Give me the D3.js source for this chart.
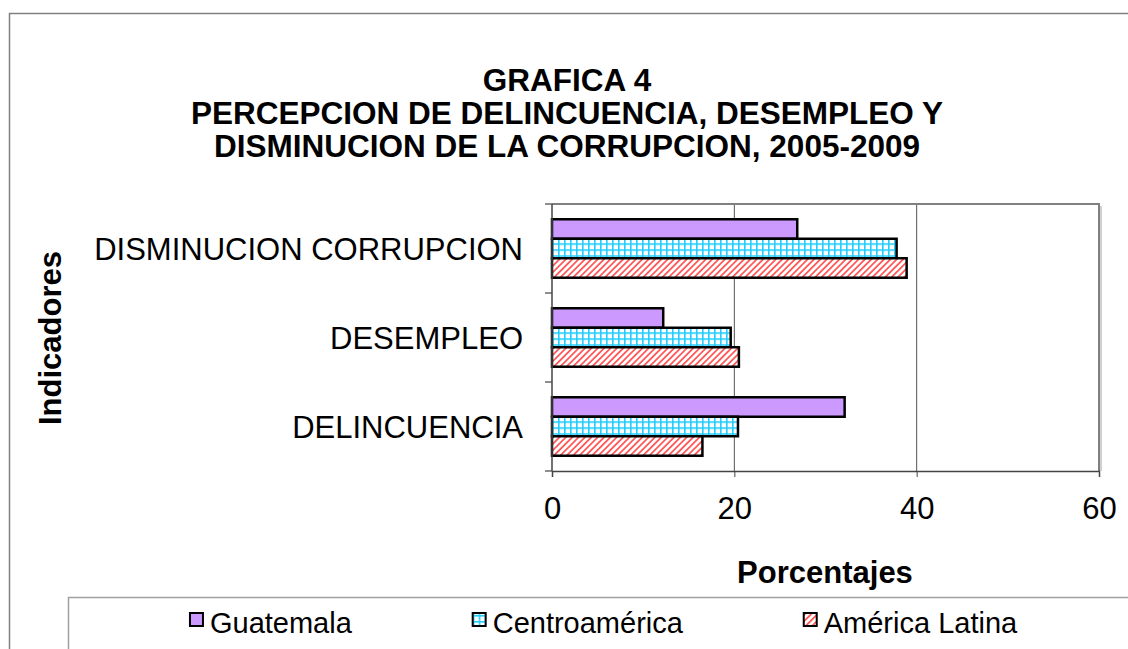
<!DOCTYPE html>
<html>
<head>
<meta charset="utf-8">
<script src="https://cdn.jsdelivr.net/npm/d3@7"></script>
<style>
  body { margin: 0; background: #fff; }
  svg { display: block; font-family: "Liberation Sans", Arial, sans-serif; }
</style>
</head>
<body>
<script>
const W = 1128, H = 649;

// Data
const categories = ["DELINCUENCIA", "DESEMPLEO", "DISMINUCION CORRUPCION"];
const seriesNames = ["Guatemala", "Centroamérica", "América Latina"];
const guatemala = [32.1, 12.2, 26.9];
const centroamerica = [20.4, 19.6, 37.8];
const americaLatina = [16.5, 20.5, 38.9];
const xTicks = [0, 20, 40, 60];
const titleLines = ["GRAFICA 4", "PERCEPCION DE DELINCUENCIA, DESEMPLEO Y", "DISMINUCION DE LA CORRUPCION, 2005-2009"];

const seriesValues = [guatemala, centroamerica, americaLatina];
const rows = categories.map((c, i) => ({
    category: c,
    values: seriesNames.map((s, j) => ({ series: s, value: seriesValues[j][i] }))
}));

const svg = d3.select("body").append("svg").attr("width", W).attr("height", H);

// Patterns for the fills
const defs = svg.append("defs");
const grid = defs.append("pattern").attr("id", "grid")
    .attr("patternUnits", "userSpaceOnUse").attr("width", 6).attr("height", 6);
grid.append("rect").attr("width", 6).attr("height", 6).attr("fill", "#fff");
grid.append("rect").attr("x", 0).attr("y", 0).attr("width", 1.6).attr("height", 6).attr("fill", "#22ccff");
grid.append("rect").attr("x", 0).attr("y", 0).attr("width", 6).attr("height", 1.6).attr("fill", "#22ccff");

const hatch = defs.append("pattern").attr("id", "hatch")
    .attr("patternUnits", "userSpaceOnUse").attr("width", 4.5).attr("height", 4.5)
    .attr("patternTransform", "rotate(45)");
hatch.append("rect").attr("width", 4.5).attr("height", 4.5).attr("fill", "#fff");
hatch.append("rect").attr("x", 0).attr("y", 0).attr("width", 1.8).attr("height", 4.5).attr("fill", "#ff5a5a");

const fills = { "Guatemala": "#cc99ff", "Centroamérica": "url(#grid)", "América Latina": "url(#hatch)" };

// Chart border
svg.append("rect").attr("x", 9.5).attr("y", 13.5).attr("width", W + 20).attr("height", H + 20)
    .attr("fill", "none").attr("stroke", "#808080").attr("stroke-width", 1.5);

// Title
svg.append("g").selectAll("text").data(titleLines).enter().append("text")
    .attr("x", 567).attr("y", (d, i) => 91 + i * 33)
    .attr("text-anchor", "middle").attr("font-weight", "bold").attr("font-size", 31.5)
    .text(d => d);

// Scales
const plot = { left: 552, right: 1099, top: 204, bottom: 471 };
const x = d3.scaleLinear().domain([0, 60]).range([plot.left, plot.right]);
const y = d3.scaleBand().domain(categories.slice().reverse())
    .range([plot.top, plot.bottom]).paddingInner(0.343).paddingOuter(0.1715);
const ySub = d3.scaleBand().domain(seriesNames).range([0, y.bandwidth()]);

// Gridlines
svg.append("g").selectAll("line").data(xTicks.slice(1, -1)).enter().append("line")
    .attr("x1", d => x(d)).attr("x2", d => x(d))
    .attr("y1", plot.top).attr("y2", plot.bottom)
    .attr("stroke", "#555").attr("stroke-width", 1);

// Plot frame (top + right)
svg.append("path")
    .attr("d", `M${plot.left},${plot.top} H${plot.right} V${plot.bottom}`)
    .attr("fill", "none").attr("stroke", "#808080").attr("stroke-width", 2);
svg.append("line").attr("x1", plot.right + 2).attr("x2", plot.right + 2)
    .attr("y1", plot.top + 2).attr("y2", plot.bottom)
    .attr("stroke", "#d0d0d0").attr("stroke-width", 2);

// Bars
const groups = svg.append("g").selectAll("g").data(rows).enter().append("g")
    .attr("transform", d => `translate(0,${y(d.category)})`);
groups.selectAll("rect").data(d => d.values).enter().append("rect")
    .attr("x", x(0))
    .attr("y", d => ySub(d.series))
    .attr("width", d => x(d.value) - x(0))
    .attr("height", ySub.bandwidth())
    .attr("fill", d => fills[d.series])
    .attr("stroke", "#000").attr("stroke-width", 2.5);

// X axis
const xAxis = svg.append("g").attr("transform", `translate(0,${plot.bottom})`)
    .call(d3.axisBottom(x).tickValues(xTicks).tickSize(6).tickPadding(20).tickFormat(d3.format("d")));
xAxis.select(".domain").attr("stroke", "#444").attr("stroke-width", 1.5);
xAxis.selectAll(".tick line").attr("stroke", "#444");
xAxis.selectAll("text").attr("font-size", 31).attr("font-family", "Liberation Sans, Arial, sans-serif")
    .attr("fill", "#000").attr("dy", "0.72em");

// Y axis: ticks at category boundaries
svg.append("line").attr("x1", plot.left).attr("x2", plot.left)
    .attr("y1", plot.top).attr("y2", plot.bottom).attr("stroke", "#444").attr("stroke-width", 1.5);
const bounds = d3.range(categories.length + 1).map(i => plot.top + i * y.step());
svg.append("g").selectAll("line").data(bounds).enter().append("line")
    .attr("x1", plot.left - 7).attr("x2", plot.left)
    .attr("y1", d => d).attr("y2", d => d)
    .attr("stroke", "#444").attr("stroke-width", 1.2);
svg.append("g").selectAll("text").data(categories).enter().append("text")
    .attr("x", 523).attr("y", d => y(d) + y.bandwidth() / 2)
    .attr("dy", "0.36em").attr("text-anchor", "end").attr("font-size", 31)
    .text(d => d);

// Axis titles
svg.append("text").attr("x", 825).attr("y", 583).attr("text-anchor", "middle")
    .attr("font-weight", "bold").attr("font-size", 31).text("Porcentajes");
svg.append("text").attr("transform", "translate(61,338) rotate(-90)").attr("text-anchor", "middle")
    .attr("font-weight", "bold").attr("font-size", 31).text("Indicadores");

// Legend
svg.append("rect").attr("x", 68.5).attr("y", 597.5).attr("width", W).attr("height", 80)
    .attr("fill", "#fff").attr("stroke", "#a0a0a0").attr("stroke-width", 1.5);
const legend = svg.append("g");
const items = legend.selectAll("g").data(seriesNames).enter().append("g");
items.append("rect").attr("x", 0).attr("y", -20).attr("width", 13).attr("height", 13)
    .attr("fill", d => fills[d]).attr("stroke", "#000").attr("stroke-width", 2);
items.append("text").attr("x", 20).attr("y", 0).attr("font-size", 29).text(d => d);
const widths = items.nodes().map(n => n.getBBox().width);
const gap = 120;
const total = d3.sum(widths) + gap * (widths.length - 1);
let cx = 604 - total / 2;
items.attr("transform", (d, i) => {
    const t = `translate(${cx},633)`;
    cx += widths[i] + gap;
    return t;
});
</script>
</body>
</html>
